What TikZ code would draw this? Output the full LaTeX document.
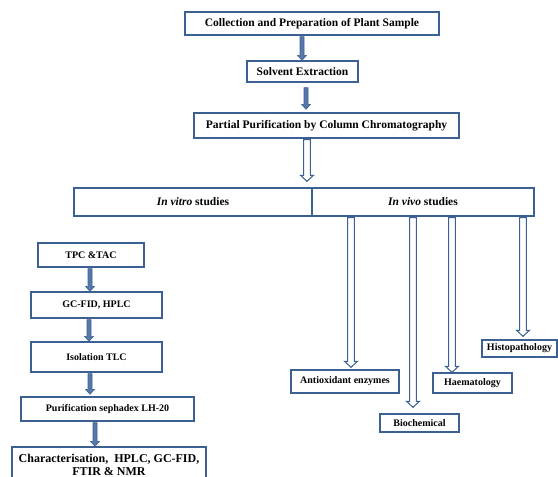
\documentclass[tikz,border=0pt]{standalone}
\usepackage{fontspec}
\setmainfont{Liberation Serif}
\usetikzlibrary{calc}
\definecolor{boxblue}{RGB}{60,96,145}
\definecolor{arrfill}{RGB}{88,120,170}
\tikzset{
  box/.style={draw=boxblue, line width=1.4pt, inner sep=0pt, fill=white,
    font=\bfseries\fontsize{11.5}{13}\selectfont, align=center},
  smallbox/.style={box, font=\bfseries\fontsize{10}{12}\selectfont},
  charbox/.style={box, font=\bfseries\fontsize{12}{12.5}\selectfont},
  solidarr/.style={fill=arrfill, draw=boxblue, line width=0.6pt},
  hollowarr/.style={fill=white, draw=boxblue, line width=1pt},
}
% filled block arrow: from #1 (gives x and start y) down to y of #2
\newcommand\solidarrow[2]{%
  \path[solidarr] let \p1=(#1), \p2=(#2) in
    (\x1-2pt,\y1) -- (\x1-2pt,\y2+5pt) -- (\x1-4.5pt,\y2+5pt) -- (\x1,\y2)
    -- (\x1+4.5pt,\y2+5pt) -- (\x1+2pt,\y2+5pt) -- (\x1+2pt,\y1) -- cycle;}
% hollow block arrow
\newcommand\hollowarrow[2]{%
  \path[hollowarr] let \p1=(#1), \p2=(#2) in
    (\x1-3.3pt,\y1) -- (\x1-3.3pt,\y2+6pt) -- (\x1-6.5pt,\y2+6pt) -- (\x1,\y2)
    -- (\x1+6.5pt,\y2+6pt) -- (\x1+3.3pt,\y2+6pt) -- (\x1+3.3pt,\y1) -- cycle;}
\begin{document}
\begin{tikzpicture}[x=1pt,y=-1pt]
\useasboundingbox (0,0) rectangle (558,477);
\clip (0,0) rectangle (558,477);
% top chain
\node[box, minimum width=254pt, minimum height=23pt] (b1) at (312,23.5) {Collection and Preparation of Plant Sample};
\node[box, minimum width=111pt, minimum height=21pt] (b2) at (302.5,71.5) {Solvent Extraction};
\node[box, minimum width=265pt, minimum height=25pt] (b3) at (326.5,125.5) {Partial Purification by Column Chromatography};
\node[box, minimum width=238pt, minimum height=28pt] (vitro) at (193,202) {\textit{In vitro} studies};
\node[box, minimum width=222pt, minimum height=28pt] (vivo) at (423,202) {\textit{In vivo} studies};
% in vitro column
\node[smallbox, minimum width=106pt, minimum height=24pt] (tpc) at (91,255) {TPC \&TAC};
\node[smallbox, minimum width=131pt, minimum height=26pt] (gc) at (96.5,305) {GC-FID, HPLC};
\node[smallbox, minimum width=131pt, minimum height=30pt] (iso) at (96.5,357) {Isolation TLC};
\node[smallbox, minimum width=173pt, minimum height=24pt] (pur) at (107.5,409) {Purification sephadex LH-20};
\node[charbox, minimum width=194pt, minimum height=36pt] (char) at (109,465) {Characterisation,\ \ HPLC, GC-FID,\\FTIR \& NMR};
% in vivo outcomes
\node[smallbox, minimum width=108pt, minimum height=23pt] (anti) at (345,381.5) {Antioxidant enzymes};
\node[smallbox, minimum width=79pt, minimum height=18pt] (bio) at (419.5,423) {Biochemical};
\node[smallbox, minimum width=79pt, minimum height=20pt] (haem) at (472.5,383) {Haematology};
\node[smallbox, minimum width=75pt, minimum height=17pt] (histo) at (519.5,348.5) {Histopathology};
% arrows
\solidarrow{[xshift=-10pt,yshift=-1pt]b1.south}{b2.north}
\solidarrow{[xshift=3.5pt,yshift=-5pt]b2.south}{[yshift=3pt]b3.north}
\hollowarrow{[xshift=-19.5pt,yshift=-1pt]b3.south}{[yshift=6pt]vitro.north}
\solidarrow{[xshift=-1pt,yshift=-1pt]tpc.south}{gc.north}
\solidarrow{[xshift=-7.5pt,yshift=-1pt]gc.south}{iso.north}
\solidarrow{[xshift=-6.5pt,yshift=-1pt]iso.south}{[yshift=2pt]pur.north}
\solidarrow{[xshift=-12.5pt,yshift=-1pt]pur.south}{char.north}
\hollowarrow{[xshift=-72pt,yshift=-1pt]vivo.south}{[yshift=2pt]anti.north}
\hollowarrow{[xshift=-10pt,yshift=-1pt]vivo.south}{[yshift=6pt]bio.north}
\hollowarrow{[xshift=29pt,yshift=-1pt]vivo.south}{haem.north}
\hollowarrow{[xshift=100pt,yshift=-1pt]vivo.south}{[yshift=3pt]histo.north}
\end{tikzpicture}
\end{document}
